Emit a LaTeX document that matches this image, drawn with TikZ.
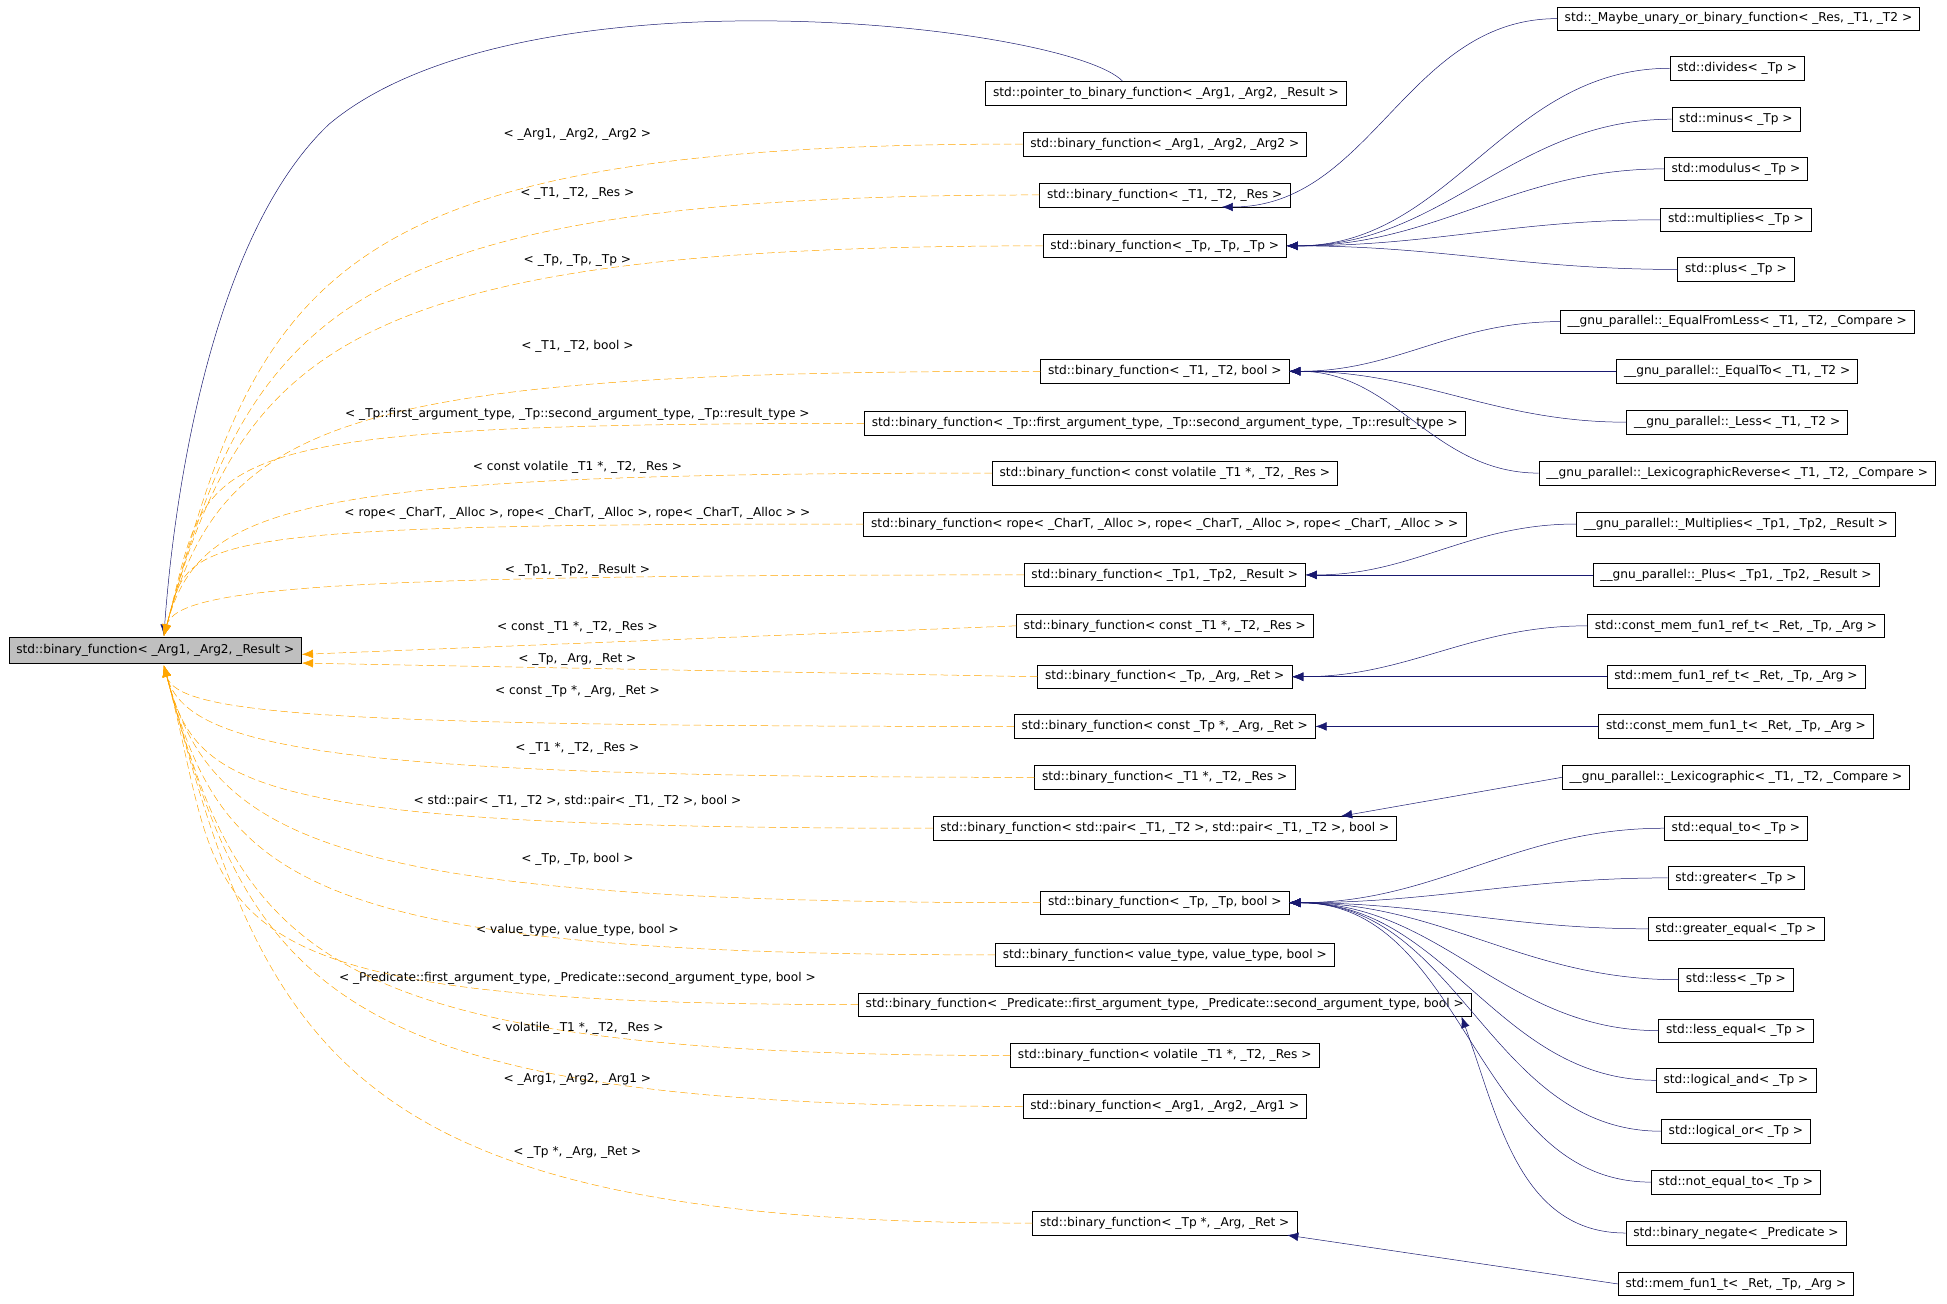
\documentclass[tikz,border=0pt]{standalone}
\usepackage{fontspec}
\setmainfont{DejaVu Sans}
\usetikzlibrary{arrows.meta}
\definecolor{edgeblue}{HTML}{191970}
\definecolor{tmplorange}{HTML}{FFA500}
\begin{document}
\begin{tikzpicture}[x=1pt,y=-1pt,
    cls/.style={draw=black,font=\fontsize{9.8}{11}\selectfont,inner xsep=6pt,inner ysep=0pt,minimum height=19pt},
    lbl/.style={font=\fontsize{9.8}{11}\selectfont,inner sep=0pt,text=black},
    inh/.style={edgeblue,-{Latex[length=9pt,width=7pt]}},
    tmpl/.style={tmplorange,dash pattern=on 6pt off 3pt,-{Latex[length=9pt,width=7pt]}}]
  \useasboundingbox (0,0) rectangle (1568,1050);
  % base class
  \node[cls,fill=black!25,minimum height=21pt] (root) at (125,524) {std::binary\_function< \_Arg1, \_Arg2, \_Result >};
  % middle column
  \node[cls] (ptr) at (939,75) {std::pointer\_to\_binary\_function< \_Arg1, \_Arg2, \_Result >};
  \node[cls] (m2) at (938,116) {std::binary\_function< \_Arg1, \_Arg2, \_Arg2 >};
  \node[cls] (m3) at (938,157) {std::binary\_function< \_T1, \_T2, \_Res >};
  \node[cls] (m4) at (938,198) {std::binary\_function< \_Tp, \_Tp, \_Tp >};
  \node[cls] (m5) at (938,299) {std::binary\_function< \_T1, \_T2, bool >};
  \node[cls] (m6) at (938,341) {std::binary\_function< \_Tp::first\_argument\_type, \_Tp::second\_argument\_type, \_Tp::result\_type >};
  \node[cls] (m7) at (938,381) {std::binary\_function< const volatile \_T1 *, \_T2, \_Res >};
  \node[cls] (m8) at (938,422) {std::binary\_function< rope< \_CharT, \_Alloc >, rope< \_CharT, \_Alloc >, rope< \_CharT, \_Alloc > >};
  \node[cls] (m9) at (938,463) {std::binary\_function< \_Tp1, \_Tp2, \_Result >};
  \node[cls] (m10) at (938,504) {std::binary\_function< const \_T1 *, \_T2, \_Res >};
  \node[cls] (m11) at (938,545) {std::binary\_function< \_Tp, \_Arg, \_Ret >};
  \node[cls] (m12) at (938,585) {std::binary\_function< const \_Tp *, \_Arg, \_Ret >};
  \node[cls] (m13) at (938,626) {std::binary\_function< \_T1 *, \_T2, \_Res >};
  \node[cls] (m14) at (938,667) {std::binary\_function< std::pair< \_T1, \_T2 >, std::pair< \_T1, \_T2 >, bool >};
  \node[cls] (m15) at (938,727) {std::binary\_function< \_Tp, \_Tp, bool >};
  \node[cls] (m16) at (938,769) {std::binary\_function< value\_type, value\_type, bool >};
  \node[cls] (m17) at (938,809) {std::binary\_function< \_Predicate::first\_argument\_type, \_Predicate::second\_argument\_type, bool >};
  \node[cls] (m18) at (938,850) {std::binary\_function< volatile \_T1 *, \_T2, \_Res >};
  \node[cls] (m19) at (938,891) {std::binary\_function< \_Arg1, \_Arg2, \_Arg1 >};
  \node[cls] (m20) at (938,985) {std::binary\_function< \_Tp *, \_Arg, \_Ret >};
  % right column
  \node[cls] (r1) at (1400,15) {std::\_Maybe\_unary\_or\_binary\_function< \_Res, \_T1, \_T2 >};
  \node[cls] (r2) at (1399,55) {std::divides< \_Tp >};
  \node[cls] (r3) at (1398,96) {std::minus< \_Tp >};
  \node[cls] (r4) at (1398,136) {std::modulus< \_Tp >};
  \node[cls] (r5) at (1398,177) {std::multiplies< \_Tp >};
  \node[cls] (r6) at (1398,217) {std::plus< \_Tp >};
  \node[cls] (r7) at (1399,259) {\_\_gnu\_parallel::\_EqualFromLess< \_T1, \_T2, \_Compare >};
  \node[cls] (r8) at (1399,299) {\_\_gnu\_parallel::\_EqualTo< \_T1, \_T2 >};
  \node[cls] (r9) at (1399,340) {\_\_gnu\_parallel::\_Less< \_T1, \_T2 >};
  \node[cls] (r10) at (1399,381) {\_\_gnu\_parallel::\_LexicographicReverse< \_T1, \_T2, \_Compare >};
  \node[cls] (r11) at (1398,422) {\_\_gnu\_parallel::\_Multiplies< \_Tp1, \_Tp2, \_Result >};
  \node[cls] (r12) at (1398,463) {\_\_gnu\_parallel::\_Plus< \_Tp1, \_Tp2, \_Result >};
  \node[cls] (r13) at (1398,504) {std::const\_mem\_fun1\_ref\_t< \_Ret, \_Tp, \_Arg >};
  \node[cls] (r14) at (1398,545) {std::mem\_fun1\_ref\_t< \_Ret, \_Tp, \_Arg >};
  \node[cls] (r15) at (1398,585) {std::const\_mem\_fun1\_t< \_Ret, \_Tp, \_Arg >};
  \node[cls] (r16) at (1398,626) {\_\_gnu\_parallel::\_Lexicographic< \_T1, \_T2, \_Compare >};
  \node[cls] (r17) at (1398,667) {std::equal\_to< \_Tp >};
  \node[cls] (r18) at (1398,707) {std::greater< \_Tp >};
  \node[cls] (r19) at (1398,748) {std::greater\_equal< \_Tp >};
  \node[cls] (r20) at (1398,789) {std::less< \_Tp >};
  \node[cls] (r21) at (1398,830) {std::less\_equal< \_Tp >};
  \node[cls] (r22) at (1398,870) {std::logical\_and< \_Tp >};
  \node[cls] (r23) at (1398,911) {std::logical\_or< \_Tp >};
  \node[cls] (r24) at (1398,952) {std::not\_equal\_to< \_Tp >};
  \node[cls] (r25) at (1398,993) {std::binary\_negate< \_Predicate >};
  \node[cls] (r26) at (1398,1034) {std::mem\_fun1\_t< \_Ret, \_Tp, \_Arg >};
  \coordinate (rtop) at (132,512);
  \coordinate (rbot) at (132,536);
  % inheritance from the base class
  \draw[inh] ([xshift=-35pt]ptr.north) .. controls (860,20) and (420,-30) .. (265,100) .. controls (170,190) and (140,400) .. (rtop);
  \foreach \m/\ly/\d/\t in {m2/108/300/{< \_Arg1, \_Arg2, \_Arg2 >}, m3/156/270/{< \_T1, \_T2, \_Res >}, m4/210/240/{< \_Tp, \_Tp, \_Tp >}, m5/279/180/{< \_T1, \_T2, bool >}, m6/334/150/{< \_Tp::first\_argument\_type, \_Tp::second\_argument\_type, \_Tp::result\_type >}, m7/376/110/{< const volatile \_T1 *, \_T2, \_Res >}, m8/413/80/{< rope< \_CharT, \_Alloc >, rope< \_CharT, \_Alloc >, rope< \_CharT, \_Alloc > >}, m9/459/40/{< \_Tp1, \_Tp2, \_Result >}}
  {
    \draw[tmpl] (\m.west) .. controls +(180:560) and +(-75:\d) .. (rtop);
    \node[lbl] at (465,\ly) {\t};
  }
  \draw[tmpl] (m10.west) -- ([yshift=-3pt]root.east);
  \node[lbl] at (465,505) {< const \_T1 *, \_T2, \_Res >};
  \draw[tmpl] (m11.west) -- ([yshift=-10pt]root.east);
  \node[lbl] at (465,531) {< \_Tp, \_Arg, \_Ret >};
  \foreach \m/\ly/\d/\t in {m12/557/40/{< const \_Tp *, \_Arg, \_Ret >}, m13/603/70/{< \_T1 *, \_T2, \_Res >}, m14/645/100/{< std::pair< \_T1, \_T2 >, std::pair< \_T1, \_T2 >, bool >}, m15/692/150/{< \_Tp, \_Tp, bool >}, m16/749/180/{< value\_type, value\_type, bool >}, m17/788/210/{< \_Predicate::first\_argument\_type, \_Predicate::second\_argument\_type, bool >}, m18/828/240/{< volatile \_T1 *, \_T2, \_Res >}, m19/869/270/{< \_Arg1, \_Arg2, \_Arg1 >}, m20/928/320/{< \_Tp *, \_Arg, \_Ret >}}
  {
    \draw[tmpl] (\m.west) .. controls +(180:560) and +(75:\d) .. (rbot);
    \node[lbl] at (465,\ly) {\t};
  }
  % derived classes
  \draw[inh] (r1.west) to[out=180,in=0] ([xshift=-55pt]m3.south east);
  \foreach \r in {r2,r3,r4,r5,r6}
    \draw[inh] (\r.west) to[out=180,in=0] (m4.east);
  \foreach \r in {r7,r8,r9,r10}
    \draw[inh] (\r.west) to[out=180,in=0] (m5.east);
  \foreach \r in {r11,r12}
    \draw[inh] (\r.west) to[out=180,in=0] (m9.east);
  \foreach \r in {r13,r14}
    \draw[inh] (\r.west) to[out=180,in=0] (m11.east);
  \draw[inh] (r15.west) -- (m12.east);
  \draw[inh] (r16.west) -- ([xshift=-45pt]m14.north east);
  \foreach \r in {r17,r18,r19,r20,r21,r22,r23,r24}
    \draw[inh] (\r.west) to[out=180,in=0] (m15.east);
  \draw[inh] (r25.west) to[out=180,in=-70] ([xshift=-8pt]m17.south east);
  \draw[inh] (r26.west) -- ([xshift=-8pt]m20.south east);
\end{tikzpicture}
\end{document}
